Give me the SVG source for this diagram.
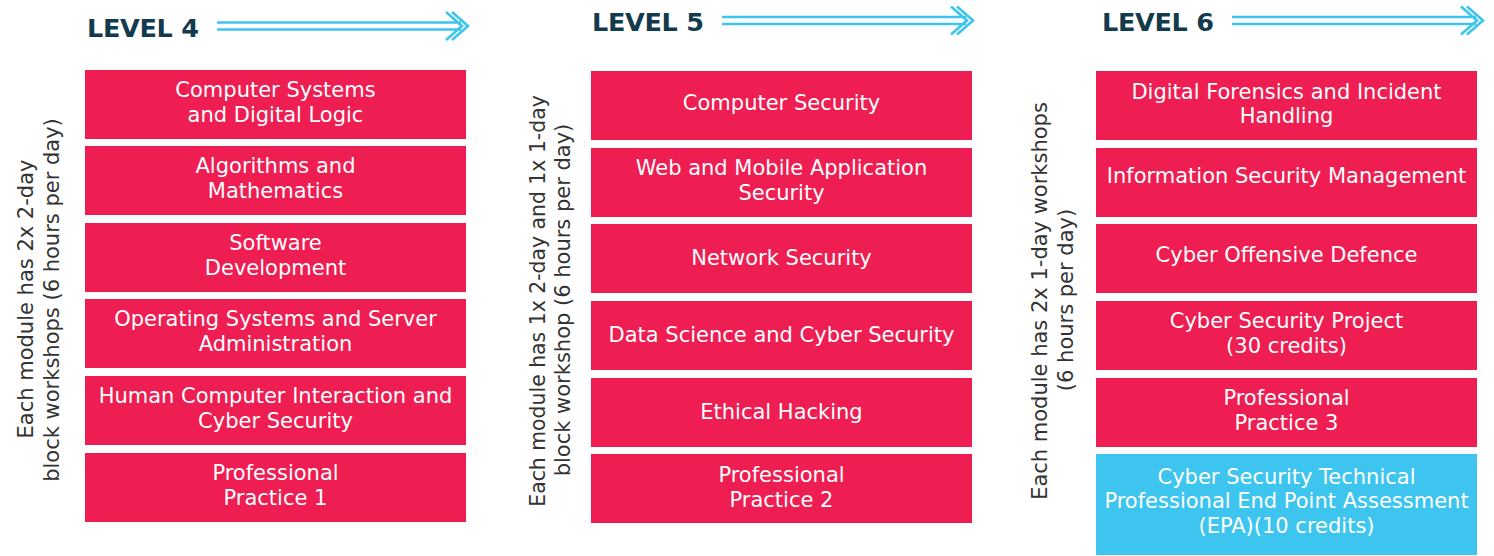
<svg xmlns="http://www.w3.org/2000/svg" width="1494" height="556" viewBox="0 0 1494 556">
<style>
.box{fill:#EE1D52}
.epa{fill:#3DC5EF}
.bt{font-family:"DejaVu Sans","Open Sans",sans-serif;font-size:21px;fill:#ffffff;text-anchor:middle}
.hd{font-family:"DejaVu Sans","Open Sans",sans-serif;font-size:25.5px;font-weight:bold;fill:#123B4E;letter-spacing:-0.3px}
.side{font-family:"DejaVu Sans","Open Sans",sans-serif;font-size:21px;fill:#333333;text-anchor:middle}
.arr{fill:none;stroke:#3CC5EF;stroke-width:2.6;stroke-linecap:butt;stroke-linejoin:miter}
</style>
<defs>
<g id="arrow">
<path class="arr" d="M0 -3.5 H244 M0 3.5 H244 M229 -14 L245 0 L229 14 M235 -14 L251 0 L235 14"/>
</g>
</defs>
<rect width="1494" height="556" fill="#ffffff"/>

<g id="headers">
<text class="hd" x="87" y="36.5">LEVEL 4</text>
<text class="hd" x="592" y="31">LEVEL 5</text>
<text class="hd" x="1102" y="31">LEVEL 6</text>
</g>

<g id="connectors">
<use href="#arrow" transform="translate(217,26)"/>
<use href="#arrow" transform="translate(722,20.5)"/>
<use href="#arrow" transform="translate(1232,20.5)"/>
</g>

<g id="side-notes">
<text class="side" transform="translate(33,299) rotate(-90)">Each module has 2x 2-day</text>
<text class="side" transform="translate(59,300) rotate(-90)">block workshops (6 hours per day)</text>
<text class="side" style="font-size:20.4px" transform="translate(545,301) rotate(-90)">Each module has 1x 2-day and 1x 1-day</text>
<text class="side" transform="translate(570,300) rotate(-90)">block workshop (6 hours per day)</text>
<text class="side" transform="translate(1047,301) rotate(-90)">Each module has 2x 1-day workshops</text>
<text class="side" transform="translate(1073,300) rotate(-90)">(6 hours per day)</text>
</g>

<!-- Level 4 -->
<g id="l4-m1"><rect class="box" x="85" y="70" width="381" height="69"/><text class="bt" x="275.5" y="96.5">Computer Systems</text><text class="bt" x="275.5" y="121.5">and Digital Logic</text></g>
<g id="l4-m2"><rect class="box" x="85" y="146" width="381" height="69"/><text class="bt" x="275.5" y="172.5">Algorithms and</text><text class="bt" x="275.5" y="197.5">Mathematics</text></g>
<g id="l4-m3"><rect class="box" x="85" y="223" width="381" height="69"/><text class="bt" x="275.5" y="249.5">Software</text><text class="bt" x="275.5" y="274.5">Development</text></g>
<g id="l4-m4"><rect class="box" x="85" y="299" width="381" height="69"/><text class="bt" x="275.5" y="325.5">Operating Systems and Server</text><text class="bt" x="275.5" y="350.5">Administration</text></g>
<g id="l4-m5"><rect class="box" x="85" y="376" width="381" height="69"/><text class="bt" x="275.5" y="402.5">Human Computer Interaction and</text><text class="bt" x="275.5" y="427.5">Cyber Security</text></g>
<g id="l4-m6"><rect class="box" x="85" y="453" width="381" height="69"/><text class="bt" x="275.5" y="479.5">Professional</text><text class="bt" x="275.5" y="504.5">Practice 1</text></g>

<!-- Level 5 -->
<g id="l5-m1"><rect class="box" x="591" y="71" width="381" height="69"/><text class="bt" x="781.5" y="109.5">Computer Security</text></g>
<g id="l5-m2"><rect class="box" x="591" y="148" width="381" height="69"/><text class="bt" x="781.5" y="174.5">Web and Mobile Application</text><text class="bt" x="781.5" y="199.5">Security</text></g>
<g id="l5-m3"><rect class="box" x="591" y="224" width="381" height="69"/><text class="bt" x="781.5" y="265">Network Security</text></g>
<g id="l5-m4"><rect class="box" x="591" y="301" width="381" height="69"/><text class="bt" x="781.5" y="342">Data Science and Cyber Security</text></g>
<g id="l5-m5"><rect class="box" x="591" y="378" width="381" height="69"/><text class="bt" x="781.5" y="419">Ethical Hacking</text></g>
<g id="l5-m6"><rect class="box" x="591" y="454" width="381" height="69"/><text class="bt" x="781.5" y="481.5">Professional</text><text class="bt" x="781.5" y="506.5">Practice 2</text></g>

<!-- Level 6 -->
<g id="l6-m1"><rect class="box" x="1096" y="71" width="381" height="69"/><text class="bt" x="1286.5" y="98.5">Digital Forensics and Incident</text><text class="bt" x="1286.5" y="123">Handling</text></g>
<g id="l6-m2"><rect class="box" x="1096" y="148" width="381" height="69"/><text class="bt" x="1286.5" y="182.5">Information Security Management</text></g>
<g id="l6-m3"><rect class="box" x="1096" y="224" width="381" height="69"/><text class="bt" x="1286.5" y="261.5">Cyber Offensive Defence</text></g>
<g id="l6-m4"><rect class="box" x="1096" y="301" width="381" height="69"/><text class="bt" x="1286.5" y="327.5">Cyber Security Project</text><text class="bt" x="1286.5" y="352.5">(30 credits)</text></g>
<g id="l6-m5"><rect class="box" x="1096" y="378" width="381" height="69"/><text class="bt" x="1286.5" y="404.5">Professional</text><text class="bt" x="1286.5" y="429.5">Practice 3</text></g>
<g id="l6-m6"><rect class="epa" x="1096" y="454" width="381" height="101"/><text class="bt" x="1286.5" y="483.5">Cyber Security Technical</text><text class="bt" x="1286.5" y="508">Professional End Point Assessment</text><text class="bt" x="1286.5" y="532.5">(EPA)(10 credits)</text></g>
</svg>
